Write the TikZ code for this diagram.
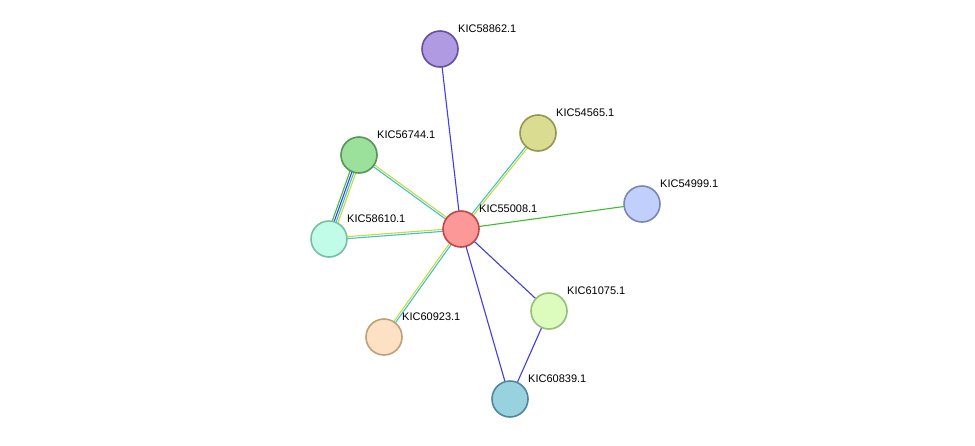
\documentclass[tikz,border=0pt]{standalone}
\usepackage{fontspec}
\setmainfont{Liberation Sans}
\usetikzlibrary{calc}
\pgfdeclarelayer{bg}\pgfsetlayers{bg,main}
\tikzset{
 prot/.style={circle,minimum size=36pt,inner sep=0pt,line width=1.6pt},
 lab/.style={anchor=south west,font=\fontsize{11}{13}\selectfont,inner sep=0pt},
 ed/.style={line width=1.1pt}
}
\newcommand\pedge[4]{\draw[ed,#4] ($(#1)!#3pt!90:(#2)$) -- ($(#2)!#3pt!-90:(#1)$);}
\definecolor{eblue}{RGB}{60,60,240}
\definecolor{ecyan}{RGB}{60,190,220}
\definecolor{eyel}{RGB}{200,220,50}
\definecolor{egreen}{RGB}{60,190,50}
\begin{document}
\begin{tikzpicture}[x=1pt,y=-1pt]
\useasboundingbox (0,0) rectangle (975,445);
\node[prot,fill={rgb,255:red,176;green,155;blue,226},draw={rgb,255:red,100;green,80;blue,160}] (a) at (440,49) {};
\node[prot,fill={rgb,255:red,218;green,221;blue,145},draw={rgb,255:red,145;green,150;blue,80}] (b) at (538,133) {};
\node[prot,fill={rgb,255:red,155;green,224;blue,155},draw={rgb,255:red,85;green,150;blue,85}] (c) at (359,155) {};
\node[prot,fill={rgb,255:red,193;green,207;blue,252},draw={rgb,255:red,120;green,135;blue,180}] (d) at (642,204) {};
\node[prot,fill={rgb,255:red,252;green,152;blue,152},draw={rgb,255:red,190;green,70;blue,70}] (e) at (461,229) {};
\node[prot,fill={rgb,255:red,192;green,252;blue,232},draw={rgb,255:red,120;green,190;blue,165}] (f) at (329,239) {};
\node[prot,fill={rgb,255:red,220;green,252;blue,190},draw={rgb,255:red,150;green,190;blue,120}] (g) at (549,311) {};
\node[prot,fill={rgb,255:red,254;green,224;blue,196},draw={rgb,255:red,190;green,160;blue,120}] (h) at (384,337) {};
\node[prot,fill={rgb,255:red,152;green,210;blue,222},draw={rgb,255:red,80;green,135;blue,155}] (i) at (510,399) {};
\node[lab] (la) at (458,33) {KIC58862.1};
\node[lab] (lb) at (556,117) {KIC54565.1};
\node[lab] (lc) at (377,139) {KIC56744.1};
\node[lab] (ld) at (660,188) {KIC54999.1};
\node[lab] (le) at (479,213) {KIC55008.1};
\node[lab] (lf) at (347,223) {KIC58610.1};
\node[lab] (lg) at (567,295) {KIC61075.1};
\node[lab] (lh) at (402,321) {KIC60923.1};
\node[lab] (li) at (528,383) {KIC60839.1};
\begin{pgfonlayer}{bg}
\draw[ed,eblue] (e.center) -- (a.center);
\draw[ed,egreen] (e.center) -- (d.center);
\draw[ed,eblue] (e.center) -- (g.center);
\draw[ed,eblue] (e.center) -- (i.center);
\draw[ed,eblue] (g.center) -- (i.center);
\foreach \n in {b,c,f,h}{
 \pedge{e.center}{\n.center}{1}{ecyan}
 \pedge{e.center}{\n.center}{-1}{eyel}
}
\pedge{c.center}{f.center}{-3}{egreen}
\pedge{c.center}{f.center}{-1}{eblue}
\pedge{c.center}{f.center}{1}{ecyan}
\pedge{c.center}{f.center}{3}{eyel}
\end{pgfonlayer}
\end{tikzpicture}
\end{document}
